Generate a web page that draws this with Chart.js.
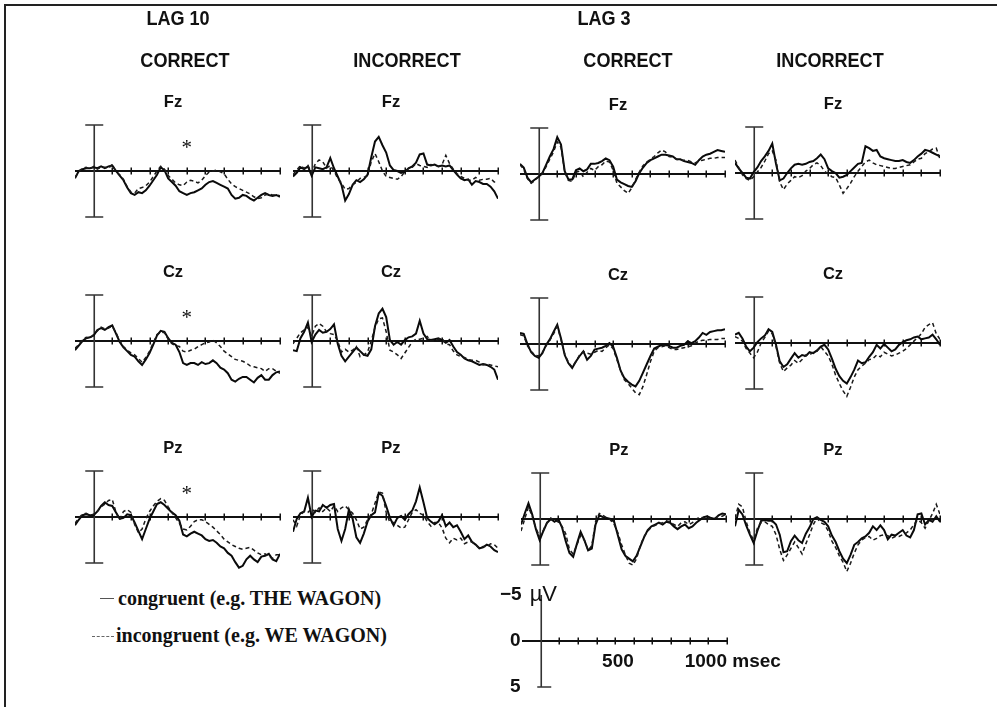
<!DOCTYPE html>
<html>
<head>
<meta charset="utf-8">
<script src="https://cdn.jsdelivr.net/npm/chart.js@4.4.1/dist/chart.umd.min.js"></script>
<style>
  html, body { margin: 0; padding: 0; background: #fff; overflow: hidden; }
  #page { position: relative; width: 997px; height: 707px; }
  #frame { position: absolute; left: 4px; top: 4px; width: 995px; height: 705px;
           border-left: 2px solid #222; border-top: 2px solid #222; }
  canvas { position: absolute; }
  .hd { position: absolute; transform: translate(-50%, -50%) scaleX(0.86); white-space: nowrap; line-height: 1;
        font-family: "Liberation Sans", Arial, sans-serif; font-weight: bold; font-size: 21px; color: #111; }
  .site { position: absolute; transform: translate(-50%, -50%); line-height: 1;
          font-family: "Liberation Sans", Arial, sans-serif; font-weight: bold; font-size: 16.5px; color: #111; }
  .key { position: absolute; transform: translateY(-50%); white-space: nowrap; line-height: 1;
         font-family: "Liberation Serif", "Times New Roman", serif; font-weight: bold; font-size: 20px; color: #111; }
  .swatch { position: absolute; height: 0; }
</style>
</head>
<body>
<div id="page">
  <div id="frame"></div>
</div>
<script>
// Sample times (ms) of the averaged waveforms
const times = [-100, -80, -60, -40, -20, 0, 20, 40, 60, 80,
               100, 120, 140, 160, 180, 200, 220, 240, 260, 280,
               300, 320, 340, 360, 380, 400, 420, 440, 460, 480,
               500, 520, 540, 560, 580, 600, 620, 640, 660, 680,
               700, 720, 740, 760, 780, 800, 820, 840, 860, 880,
               900, 920, 940, 960, 980, 1000];
const tickTimes = [100, 200, 300, 400, 500, 600, 700, 800, 900, 1000];
const calibTickLabels = ['500', '1000'];
const calibUnit = 'msec';
const calibVolt = ['−5', '0', '5'];

const lagTitles = ['LAG 10', 'LAG 3'];
const responseTitles = ['CORRECT', 'INCORRECT', 'CORRECT', 'INCORRECT'];
const electrodes = ['Fz', 'Cz', 'Pz'];
const legendLabels = ['congruent (e.g. THE WAGON)', 'incongruent (e.g. WE WAGON)'];

// Amplitudes in µV (negative plotted upward)
// ---- Fz ----
const lag10CorrectFzCong = [0.8, 0.0, -0.2, -0.3, -0.3, -0.4, -0.3, -0.5, -0.3, -0.5,
  -0.6, 0.0, 0.5, 1.0, 1.8, 2.4, 2.6, 2.3, 2.4, 2.1,
  1.6, 1.0, 0.4, -0.4, -0.1, 0.8, 1.2, 1.6, 2.2, 2.4,
  2.6, 2.4, 2.3, 2.1, 1.9, 1.5, 1.2, 1.1, 1.3, 1.5,
  1.7, 1.9, 2.6, 3.0, 2.9, 2.6, 2.7, 3.0, 3.2, 2.9,
  2.6, 2.4, 2.6, 2.7, 2.6, 2.8];
const lag10CorrectFzIncong = [0.7, 0.1, -0.3, -0.4, -0.2, -0.5, -0.2, -0.4, -0.4, -0.3,
  -0.7, 0.1, 0.4, 0.9, 1.7, 2.3, 2.4, 1.9, 1.8, 1.6,
  1.2, 0.6, 0.0, -0.5, -0.2, 0.5, 0.9, 1.3, 1.5, 1.6,
  1.2, 1.0, 1.1, 1.3, 1.0, 0.5, 0.1, 0.0, -0.1, 0.1,
  0.3, 0.9, 1.4, 1.7, 1.9, 2.1, 2.3, 2.5, 2.8, 3.0,
  2.9, 2.6, 2.5, 2.6, 2.6, 2.7];
const lag10IncorrectFzCong = [0.6, 0.2, -0.4, -0.2, -0.5, 0.5, -0.4, -0.3, -0.2, -0.4,
  -1.4, -0.3, 0.6, 1.5, 3.2, 2.5, 1.5, 1.0, 1.2, 0.9,
  0.4, -1.5, -3.2, -3.7, -2.8, -2.0, -0.6, -0.1, 0.0, 0.2,
  0.1, -0.3, -0.5, -0.9, -1.8, -1.9, -0.7, -0.6, -0.7, -0.5,
  -0.6, -0.5, -0.6, -0.1, 0.4, 0.8, 1.0, 0.9, 1.5, 1.1,
  1.2, 1.4, 1.4, 1.7, 2.2, 3.0];
const lag10IncorrectFzIncong = [0.4, -0.1, -0.6, -0.3, -0.6, 0.2, -0.8, -1.2, -1.0, -0.3,
  -0.6, 0.0, 0.8, 1.3, 2.0, 1.9, 1.5, 1.2, 0.8, 0.7,
  0.5, -1.0, -1.9, -1.0, 0.0, 0.6, 0.7, 0.8, 0.9, 0.6,
  0.1, -0.3, -0.4, -0.8, -0.6, -0.5, -0.4, -0.7, -0.6, -0.5,
  -0.7, -1.7, -0.8, -0.2, 0.3, 0.6, 0.8, 1.0, 1.0, 0.7,
  1.0, 0.9, 0.9, 0.8, 1.2, 1.2];
const lag3CorrectFzCong = [-1.1, -0.7, 0.4, 0.9, 0.6, 0.3, -0.1, -1.0, -1.9, -2.7,
  -4.0, -3.2, -0.3, 0.6, 0.6, -0.4, -0.6, -0.3, -0.5, -1.1,
  -1.1, -1.2, -1.4, -1.7, -1.5, -0.8, 0.6, 0.9, 1.1, 1.3,
  1.4, 0.8, -0.1, -0.7, -1.2, -1.5, -1.7, -1.9, -2.1, -2.1,
  -2.0, -1.9, -1.6, -1.6, -1.4, -1.3, -1.2, -1.0, -1.5, -1.9,
  -2.1, -2.2, -2.4, -2.6, -2.5, -2.4];
const lag3CorrectFzIncong = [-1.0, -0.5, 0.5, 1.0, 0.7, 0.3, 0.0, -0.8, -1.6, -2.4,
  -3.5, -2.9, -0.2, 0.7, 0.8, -0.2, -0.3, 0.3, -0.2, -0.6,
  -0.4, -0.8, -1.0, -1.4, -1.3, -0.4, 1.0, 1.4, 1.8, 2.1,
  1.5, 0.6, -0.2, -0.9, -1.3, -1.6, -1.9, -2.3, -2.6, -2.4,
  -1.9, -1.8, -1.6, -1.5, -1.5, -1.5, -1.3, -1.2, -1.4, -1.5,
  -1.6, -1.7, -1.7, -1.8, -1.8, -1.8];
const lag3IncorrectFzCong = [-1.1, -0.5, 0.0, 0.5, 0.6, -0.1, -0.6, -1.3, -1.8, -2.4,
  -3.2, -1.0, 0.8, 0.6, 0.0, -0.5, -0.9, -1.0, -0.9, -1.0,
  -1.2, -1.3, -1.6, -2.0, -1.5, -0.5, -0.2, 0.0, 0.5, 0.4,
  0.2, -0.2, -0.6, -1.0, -1.1, -2.9, -2.7, -2.4, -2.5, -1.8,
  -1.6, -1.5, -1.4, -1.3, -1.3, -1.4, -1.2, -1.1, -1.4, -1.8,
  -2.1, -2.5, -2.4, -2.2, -2.0, -1.8];
const lag3IncorrectFzIncong = [-1.4, -0.6, 0.2, 0.6, 0.8, 0.4, -0.1, -0.6, -1.3, -2.1,
  -2.4, -1.4, 1.0, 1.8, 1.2, 0.8, 0.4, 0.5, 0.3, -0.2,
  -0.5, -0.9, -1.1, -0.8, -0.2, 0.1, 0.4, 0.5, 1.3, 2.2,
  1.7, 1.1, 0.4, -0.2, -0.7, -1.2, -1.4, -1.1, -0.9, -0.8,
  -0.7, -0.6, -0.5, -0.5, -0.6, -0.7, -0.8, -0.9, -1.2, -1.5,
  -1.6, -2.1, -2.3, -2.6, -2.7, -1.5];
// ---- Cz ----
const lag10CorrectCzCong = [1.0, 0.5, 0.0, -0.3, -0.4, -0.6, -1.2, -1.4, -1.2, -1.5,
  -1.7, -0.8, 0.1, 0.7, 1.1, 1.5, 1.7, 2.2, 2.6, 2.0,
  1.3, 0.4, -0.6, -1.1, -1.0, -0.3, 0.2, 0.4, 1.2, 2.4,
  2.6, 2.4, 2.4, 2.6, 2.3, 2.5, 2.4, 2.1, 2.4, 2.9,
  3.1, 3.5, 4.2, 4.4, 4.1, 3.9, 3.9, 4.2, 4.5, 4.0,
  3.7, 4.2, 4.2, 3.7, 3.4, 3.3];
const lag10CorrectCzIncong = [0.8, 0.4, -0.1, -0.4, -0.3, -0.7, -1.1, -1.5, -1.3, -1.4,
  -1.6, -0.9, 0.0, 0.6, 1.0, 1.3, 1.5, 1.9, 2.3, 1.8,
  1.1, 0.2, -0.7, -1.0, -0.9, -0.2, 0.3, 0.5, 0.6, 1.1,
  1.2, 1.0, 0.9, 0.6, 0.4, 0.2, 0.1, -0.1, 0.2, 0.6,
  1.1, 1.4, 1.7, 2.0, 2.1, 2.2, 2.4, 2.7, 2.8, 2.9,
  3.0, 3.3, 3.0, 3.0, 3.3, 3.5];
const lag10IncorrectCzCong = [1.0, 1.1, -0.3, -1.0, -2.0, 0.1, -0.7, -1.2, -0.9, -1.0,
  -1.3, -1.8, 0.3, 1.6, 2.2, 1.7, 1.2, 0.7, 1.1, 1.5,
  1.6, 0.9, -1.6, -3.0, -3.5, -2.6, -0.1, 0.4, 0.1, 0.4,
  -0.1, -0.4, -0.5, -0.8, -2.2, -0.8, -0.2, -0.1, -0.2, -0.3,
  -0.1, 0.2, -0.1, 0.6, 1.2, 1.5, 1.9, 2.1, 2.2, 2.4,
  2.6, 2.5, 2.6, 2.8, 3.1, 4.2];
const lag10IncorrectCzIncong = [0.3, -0.3, -0.9, -1.2, -1.5, -0.5, -1.6, -1.9, -1.6, -1.0,
  -0.8, -0.7, 0.0, 1.2, 0.9, 1.2, 1.0, 0.6, 1.7, 1.5,
  1.2, 0.0, -1.5, -2.4, -2.5, -1.0, 1.0, 1.2, 1.5, 1.9,
  1.3, 0.7, 0.1, -0.2, -0.2, -0.3, -0.5, 0.0, 0.0, -0.2,
  -0.3, 0.3, 0.4, 1.1, 1.5, 1.7, 1.8, 2.0, 2.1, 2.1,
  2.3, 2.6, 2.5, 2.6, 2.7, 2.8];
const lag3CorrectCzCong = [-1.2, -1.1, 0.0, 0.9, 1.3, 1.5, 1.0, 0.1, -0.5, -1.3,
  -2.1, -0.6, 1.2, 2.1, 2.6, 1.9, 1.3, 0.8, 1.7, 1.3,
  0.6, 0.5, 0.4, 0.2, -0.1, 0.3, 1.5, 2.9, 3.7, 4.1,
  4.4, 4.6, 4.0, 3.1, 2.2, 1.3, 0.5, 0.3, 0.1, 0.1,
  0.2, 0.4, 0.4, 0.2, 0.1, -0.3, -0.1, -0.3, -0.7, -1.2,
  -1.0, -1.3, -1.4, -1.5, -1.5, -1.6];
const lag3CorrectCzIncong = [-1.0, -0.9, 0.2, 0.8, 1.2, 1.3, 0.9, 0.2, -0.4, -1.1,
  -1.9, -0.5, 1.1, 2.0, 2.5, 1.9, 1.2, 0.8, 1.0, 1.1,
  0.9, 0.7, 0.8, 0.4, 0.1, 0.5, 1.7, 2.9, 3.9, 4.3,
  4.8, 5.3, 5.5, 4.6, 3.3, 1.9, 0.8, 0.4, 0.3, 0.2,
  0.4, 0.6, 0.6, 0.5, 0.4, 0.3, 0.2, -0.1, -0.3, -0.4,
  -0.4, -0.5, -0.5, -0.5, -0.6, -0.6];
const lag3IncorrectCzCong = [-0.9, -1.1, -0.5, 0.4, 0.9, 0.5, -0.1, -0.5, -0.8, -1.5,
  -1.2, 0.2, 2.0, 2.6, 2.3, 1.7, 1.1, 1.6, 1.3, 1.4,
  1.0, 1.1, 0.8, 0.4, 0.2, 0.7, 1.7, 2.8, 3.6, 4.1,
  4.4, 3.7, 2.9, 1.9, 2.2, 2.1, 1.5, 1.0, 0.2, 0.6,
  0.1, 0.5, 0.9, 0.7, 0.2, -0.1, -0.3, -0.4, -0.6, -0.7,
  -0.4, -0.5, -0.6, -0.9, -0.4, 0.2];
const lag3IncorrectCzIncong = [-0.7, -0.5, -0.2, 0.6, 1.1, 1.6, 1.0, 0.0, -0.6, -1.3,
  -1.0, 0.4, 2.2, 3.1, 2.7, 2.4, 1.9, 2.2, 1.8, 1.3,
  1.3, 1.0, 0.9, 0.4, 0.9, 1.4, 2.3, 3.5, 4.4, 5.2,
  5.8, 4.8, 3.7, 2.9, 2.5, 2.2, 1.8, 1.7, 1.3, 1.5,
  1.0, 1.2, 1.4, 1.3, 1.1, 0.9, 0.6, 0.2, -0.2, -0.6,
  -1.0, -1.7, -2.0, -2.2, -1.0, -0.4];
// ---- Pz ----
const lag10CorrectPzCong = [0.9, 0.3, -0.2, -0.3, -0.2, -0.2, -0.6, -1.2, -1.6, -1.3,
  -1.2, -0.5, 0.2, 0.1, -0.3, -0.2, 0.6, 1.5, 2.4, 1.3,
  0.2, -0.6, -1.4, -1.6, -1.3, -0.9, -0.5, -0.2, 0.4, 1.9,
  2.1, 1.8, 1.6, 1.8, 2.0, 2.4, 2.6, 2.5, 2.8, 3.2,
  3.4, 3.9, 4.2, 4.9, 5.5, 5.3, 4.6, 4.2, 4.6, 4.9,
  4.3, 4.2, 4.0, 4.6, 4.8, 4.0];
const lag10CorrectPzIncong = [0.7, 0.1, -0.3, -0.4, -0.2, -0.3, -0.6, -1.1, -1.4, -1.8,
  -1.9, -0.5, 0.3, -0.6, -0.8, -0.5, 0.8, 1.7, 1.3, 0.2,
  -0.6, -1.2, -1.7, -2.0, -1.8, -1.1, -0.5, 0.1, 0.7, 1.3,
  1.4, 1.0, 0.5, 0.3, 0.3, 0.5, 0.8, 1.1, 1.5, 1.9,
  2.4, 2.7, 3.0, 3.2, 3.4, 3.5, 3.4, 3.3, 3.6, 3.9,
  4.1, 4.0, 4.3, 4.5, 4.1, 4.1];
const lag10IncorrectPzCong = [1.6, 0.2, -0.4, -0.6, -2.1, 0.0, -0.7, -0.6, -1.3, -1.0,
  -1.3, -1.4, 1.3, 2.6, 1.3, -0.8, 0.2, 2.2, 2.8, 1.8,
  0.5, -0.2, -0.5, -2.6, -2.3, -1.2, 0.1, 0.9, 0.1, -0.1,
  0.3, -0.3, -0.7, -1.7, -3.2, -1.6, 0.1, 0.5, 0.8, 0.5,
  -0.2, 1.0, 0.6, 1.1, 0.9, 1.6, 2.4, 2.0, 2.7, 3.0,
  3.4, 3.3, 3.0, 3.2, 3.6, 3.8];
const lag10IncorrectPzIncong = [0.3, 1.0, -0.2, -0.6, -0.5, -0.9, -0.5, -1.0, -0.6, -1.0,
  -0.6, -1.2, -0.6, -1.0, -1.2, -0.8, -0.4, 0.3, 1.3, 1.1,
  0.3, -0.3, -1.5, -2.7, -2.6, -0.5, 0.6, 0.6, 0.9, 1.2,
  1.1, 0.3, -0.5, -0.8, -0.4, -0.2, 0.5, 1.0, 0.6, 0.6,
  1.2, 2.3, 2.8, 2.3, 2.5, 2.3, 2.9, 2.7, 2.7, 3.0,
  3.4, 3.2, 3.2, 2.9, 3.0, 3.4];
const lag3CorrectPzCong = [0.6, -0.6, -1.7, -0.5, 1.1, 2.3, 1.3, 0.4, 0.0, 0.3,
  0.0, 0.9, 2.4, 3.7, 4.1, 2.7, 1.4, 2.3, 3.4, 3.2,
  0.6, -0.4, -0.2, -0.1, 0.0, 0.3, 1.8, 3.3, 4.0, 4.3,
  4.6, 4.0, 3.0, 2.0, 1.2, 0.8, 0.6, 0.4, 0.6, 0.3,
  0.4, 0.8, 1.1, 0.8, 0.6, 1.0, 0.8, 0.4, 0.1, -0.2,
  -0.3, -0.1, 0.0, -0.4, -0.6, -0.5];
const lag3CorrectPzIncong = [1.3, 0.0, -1.3, -0.3, 1.0, 1.9, 1.2, 0.4, -0.1, 0.2,
  0.3, 0.8, 1.6, 3.3, 3.8, 2.8, 1.8, 2.3, 3.4, 2.9,
  0.3, -0.6, -0.4, -0.1, 0.1, 0.6, 1.5, 2.8, 3.9, 4.8,
  5.0, 4.3, 2.9, 1.9, 1.3, 0.9, 0.7, 0.5, 0.4, 0.2,
  0.3, 0.6, 0.8, 0.4, 0.3, 0.6, 0.4, 0.0, -0.2, -0.1,
  0.1, -0.1, -0.1, -0.3, -0.3, -0.5];
const lag3IncorrectPzCong = [0.8, -1.0, -0.5, 0.7, 1.7, 2.6, 1.3, 0.2, 0.1, 0.2,
  0.2, 0.6, 1.7, 3.6, 3.5, 2.4, 1.8, 2.3, 2.6, 1.6,
  0.9, 0.0, -0.2, 0.1, 0.3, 0.8, 1.8, 2.5, 3.5, 4.3,
  4.8, 3.9, 2.8, 2.5, 2.1, 1.9, 1.5, 0.8, 1.2, 0.7,
  1.2, 2.2, 1.7, 1.8, 1.5, 1.2, 1.8, 2.0, 1.2, -0.5,
  -0.6, 0.6, 0.1, 0.3, -0.3, 0.3];
const lag3IncorrectPzIncong = [-0.1, -1.6, -1.3, 0.3, 1.5, 2.3, 1.0, 0.4, 0.3, 0.6,
  0.8, 1.7, 3.3, 4.5, 3.9, 3.2, 2.5, 3.1, 3.8, 2.7,
  1.7, 0.6, -0.1, 0.4, 0.6, 1.3, 2.4, 3.1, 4.0, 4.7,
  5.7, 4.8, 3.7, 2.8, 2.3, 2.0, 1.9, 2.3, 2.1, 1.8,
  1.7, 1.8, 2.1, 1.9, 1.9, 1.7, 1.5, 1.2, 0.6, 0.1,
  0.4, 1.0, 0.2, -0.6, -1.6, -0.5];

// Grid of panels: rows = electrodes, columns = lag/response condition
const panelSeries = [
  [lag10CorrectFzCong, lag10CorrectFzIncong], [lag10IncorrectFzCong, lag10IncorrectFzIncong],
  [lag3CorrectFzCong, lag3CorrectFzIncong], [lag3IncorrectFzCong, lag3IncorrectFzIncong],
  [lag10CorrectCzCong, lag10CorrectCzIncong], [lag10IncorrectCzCong, lag10IncorrectCzIncong],
  [lag3CorrectCzCong, lag3CorrectCzIncong], [lag3IncorrectCzCong, lag3IncorrectCzIncong],
  [lag10CorrectPzCong, lag10CorrectPzIncong], [lag10IncorrectPzCong, lag10IncorrectPzIncong],
  [lag3CorrectPzCong, lag3CorrectPzIncong], [lag3IncorrectPzCong, lag3IncorrectPzIncong]
];
const significantPanels = [0, 4, 8];   // lag-10 correct: congruency effect at 500 ms
const starTime = 500;

// Page placement of each panel: left edge of the -100 ms baseline, and the 0 µV line
const panelPlacement = [
  [75, 171], [293, 171], [520, 174], [735, 173],
  [75, 341], [293, 341], [520, 344], [735, 343],
  [75, 517], [293, 517], [521, 519], [735, 519]
];
const calibPlacement = [522, 641];

const T_MIN = -100, T_MAX = 1000, CAL = 5, Y_LIM = 7.6;
const PAD = 4, PANEL_W = 205 + 2 * PAD, PANEL_H = 140;

const page = document.getElementById('page');

function addText(cls, text, x, y) {
  const d = document.createElement('div');
  d.className = cls; d.textContent = text;
  d.style.left = x + 'px'; d.style.top = y + 'px';
  page.appendChild(d);
  return d;
}

// Baseline with 100 ms ticks and the ±5 µV calibration bar
const erpAxes = {
  id: 'erpAxes',
  beforeDatasetsDraw(chart, args, opts) {
    const { ctx } = chart;
    const xs = chart.scales.x, ys = chart.scales.y;
    const y0 = Math.round(ys.getPixelForValue(0));
    ctx.save();
    ctx.strokeStyle = '#111';
    ctx.lineWidth = 2;
    ctx.beginPath();
    ctx.moveTo(xs.getPixelForValue(T_MIN), y0);
    ctx.lineTo(xs.getPixelForValue(T_MAX), y0);
    ctx.stroke();
    ctx.lineWidth = 1.5;
    ctx.beginPath();
    tickTimes.forEach(t => {
      const x = Math.round(xs.getPixelForValue(t)) + 0.25;
      ctx.moveTo(x, y0 - 3.5); ctx.lineTo(x, y0 + 3.5);
    });
    ctx.stroke();
    const xb = Math.round(xs.getPixelForValue(0)) + 0.25;
    const yt = ys.getPixelForValue(-CAL), yb = ys.getPixelForValue(CAL);
    ctx.strokeStyle = '#333';
    ctx.lineWidth = 1.6;
    ctx.beginPath();
    ctx.moveTo(xb, yt); ctx.lineTo(xb, yb);
    if (opts.capTop) { ctx.moveTo(xb - 9, yt); ctx.lineTo(xb + 9, yt); }
    ctx.moveTo(xb - opts.capLeft, yb); ctx.lineTo(xb + opts.capRight, yb);
    ctx.stroke();
    ctx.restore();
  },
  afterDatasetsDraw(chart, args, opts) {
    if (!opts.star) return;
    const { ctx } = chart;
    ctx.save();
    ctx.fillStyle = '#111';
    ctx.font = '21px "Liberation Serif", serif';
    ctx.textAlign = 'center';
    ctx.textBaseline = 'middle';
    ctx.fillText('*', chart.scales.x.getPixelForValue(starTime), chart.scales.y.getPixelForValue(-2.4));
    ctx.restore();
  }
};

function baseOptions(padLeft, padRight, axesOpts) {
  return {
    responsive: false,
    animation: false,
    devicePixelRatio: 1,
    layout: { padding: { left: padLeft, right: padRight, top: 0, bottom: 0 } },
    scales: {
      x: { type: 'linear', min: T_MIN, max: T_MAX, display: false },
      y: { type: 'linear', min: -Y_LIM, max: Y_LIM, reverse: true, display: false }
    },
    elements: { point: { radius: 0 } },
    plugins: { legend: { display: false }, tooltip: { enabled: false }, erpAxes: axesOpts }
  };
}

panelSeries.forEach((pair, i) => {
  const [x0, z0] = panelPlacement[i];
  const cv = document.createElement('canvas');
  cv.width = PANEL_W; cv.height = PANEL_H;
  cv.style.left = (x0 - PAD) + 'px';
  cv.style.top = (z0 - PANEL_H / 2) + 'px';
  page.appendChild(cv);
  new Chart(cv, {
    type: 'line',
    data: {
      datasets: [
        { label: legendLabels[1], data: times.map((t, k) => ({ x: t, y: pair[1][k] })),
          borderColor: '#1a1a1a', borderWidth: 1.5, borderDash: [4, 3], tension: 0, fill: false },
        { label: legendLabels[0], data: times.map((t, k) => ({ x: t, y: pair[0][k] })),
          borderColor: '#0a0a0a', borderWidth: 2, tension: 0, fill: false }
      ]
    },
    options: baseOptions(PAD, PAD, { capTop: true, capLeft: 9, capRight: 9, star: significantPanels.includes(i) }),
    plugins: [erpAxes]
  });
  addText('site', electrodes[Math.floor(i / 4)], x0 + 98, z0 - 70);
});

// Calibration scale: axes only, with tick labels
const calibLabels = {
  id: 'calibLabels',
  afterDraw(chart) {
    const { ctx } = chart;
    const xs = chart.scales.x, ys = chart.scales.y;
    const xb = xs.getPixelForValue(0);
    ctx.save();
    ctx.fillStyle = '#111';
    ctx.textBaseline = 'middle';
    ctx.font = 'bold 19px "Liberation Sans", Arial, sans-serif';
    ctx.textAlign = 'right';
    ctx.fillText(calibVolt[0], xb - 19, ys.getPixelForValue(-CAL));
    ctx.fillText(calibVolt[1], xb - 20, ys.getPixelForValue(0));
    ctx.fillText(calibVolt[2], xb - 20, ys.getPixelForValue(CAL));
    ctx.font = '22px "Liberation Sans", Arial, sans-serif';
    ctx.textAlign = 'left';
    ctx.fillText('µV', xb - 11, ys.getPixelForValue(-CAL));
    ctx.font = 'bold 19px "Liberation Sans", Arial, sans-serif';
    const yl = ys.getPixelForValue(0) + 21;
    ctx.textAlign = 'right';
    ctx.fillText(calibTickLabels[0], xs.getPixelForValue(500), yl);
    ctx.fillText(calibTickLabels[1], xs.getPixelForValue(1000), yl);
    ctx.textAlign = 'left';
    ctx.fillText(' ' + calibUnit, xs.getPixelForValue(1000), yl);
    ctx.restore();
  }
};
{
  const [x0, z0] = calibPlacement;
  const cv = document.createElement('canvas');
  const left = 470, width = 340;
  cv.width = width; cv.height = PANEL_H;
  cv.style.left = left + 'px';
  cv.style.top = (z0 - PANEL_H / 2) + 'px';
  page.appendChild(cv);
  const padL = x0 - left, padR = width - padL - 205;
  new Chart(cv, {
    type: 'line',
    data: { datasets: [] },
    options: baseOptions(padL, padR, { capTop: false, capLeft: 4, capRight: 10, star: false }),
    plugins: [erpAxes, calibLabels]
  });
}

// Column and group headings
addText('hd', lagTitles[0], 178, 17);
addText('hd', lagTitles[1], 604, 17);
[185, 407, 628, 830].forEach((x, i) => addText('hd', responseTitles[i], x, 59));

// Line key
const s1 = document.createElement('div');
s1.className = 'swatch';
Object.assign(s1.style, { left: '100px', top: '598px', width: '14px', borderTop: '1px solid #555' });
page.appendChild(s1);
const s2 = document.createElement('div');
s2.className = 'swatch';
Object.assign(s2.style, { left: '92px', top: '636px', width: '22px', borderTop: '1px dashed #666' });
page.appendChild(s2);
addText('key', legendLabels[0], 118, 598);
addText('key', legendLabels[1], 116, 635);
</script>
</body>
</html>
